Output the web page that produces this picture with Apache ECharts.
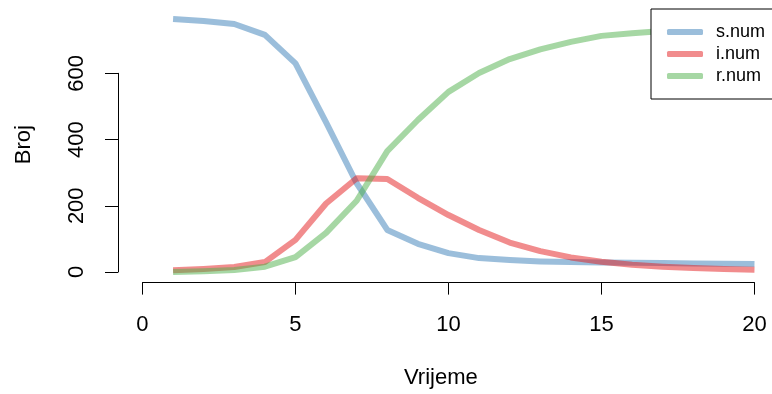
<!DOCTYPE html>
<html>
<head>
<meta charset="utf-8">
<script src="https://cdn.jsdelivr.net/npm/echarts@6/dist/echarts.min.js"></script>
<style>
html,body{margin:0;padding:0;background:#fff;}
#chart{width:772px;height:394px;}
</style>
</head>
<body>
<div id="chart"></div>
<script>
// ---- data ----
var vrijeme = [1,2,3,4,5,6,7,8,9,10,11,12,13,14,15,16,17,18,19,20];
var sNum = [764,758,749,716,630,452,268,127,85,57,42,36,32,30,29,28,27,26,25,24];
var iNum = [5,9,15,30,97,207,283,281,224,172,127,89,63,44,31,22,16,12,9,7];
var rNum = [0,2,6,16,45,118,215,365,459,544,601,643,672,695,713,721,728,733,737,740];
var seriesNames = ['s.num','i.num','r.num'];
var xTicks = [0,5,10,15,20];
var yTicks = [0,200,400,600];

function pairs(ys){ return vrijeme.map(function(x,k){ return [x, ys[k]]; }); }

var colors = ['rgba(55,126,184,0.5)','rgba(228,26,28,0.5)','rgba(77,175,74,0.5)'];
var font = 'Liberation Sans, Arial, sans-serif';

var chart = echarts.init(document.getElementById('chart'), null, {renderer:'canvas'});
var pxY = 198.7/600;
var pxX = 30.6;
var x0 = 118 + 0.8*pxX;   // pixel of x = 0
var yOff = 32;            // value-units below 0 where the x axis line sits
var hidden = {axisLine:{show:false}, axisTick:{show:false}, axisLabel:{show:false}, splitLine:{show:false}};
function hid(o){ var r = JSON.parse(JSON.stringify(hidden)); for (var k in o) r[k]=o[k]; return r; }

var option = {
  animation:false,
  backgroundColor:'#fff',
  grid:[
    {left:118, top:10.4, width:21.1*pxX, height:822*pxY},             // titles
    {left:x0, top:73.3, width:20*pxX, height:(600+yOff)*pxY},          // data + x-axis display
    {left:118, top:73.3, width:20*pxX, height:600*pxY}                  // y-axis display
  ],
  xAxis:[
    hid({gridIndex:0, type:'value', min:-0.8, max:20.3,
     name:'Vrijeme', nameLocation:'middle', nameGap:88,
     nameTextStyle:{fontFamily:font, fontSize:22, color:'#000'}}),
    {gridIndex:1, type:'value', min:0, max:20, interval:5, position:'bottom',
     axisLine:{show:true, onZero:false, lineStyle:{color:'#000', width:1}},
     axisTick:{show:true, inside:false, length:12, lineStyle:{color:'#000', width:1}},
     axisLabel:{show:true, margin:31, fontFamily:font, fontSize:22, color:'#000',
       formatter:function(v){ return xTicks.indexOf(v)>=0 ? String(v) : ''; }},
     splitLine:{show:false}},
    hid({gridIndex:2, type:'value', min:0, max:20})
  ],
  yAxis:[
    hid({gridIndex:0, type:'value', min:-32, max:790,
     name:'Broj', nameLocation:'middle', nameGap:83,
     nameTextStyle:{fontFamily:font, fontSize:22, color:'#000'}}),
    hid({gridIndex:1, type:'value', min:-yOff, max:600}),
    {gridIndex:2, type:'value', min:0, max:600, interval:200, position:'left',
     axisLine:{show:true, onZero:false, lineStyle:{color:'#000', width:1}},
     axisTick:{show:true, inside:false, length:13, lineStyle:{color:'#000', width:1}},
     axisLabel:{show:true, rotate:90, margin:30, fontFamily:font, fontSize:22, color:'#000',
       formatter:function(v){ return yTicks.indexOf(v)>=0 ? String(v) : ''; }},
     splitLine:{show:false}}
  ],
  legend:{
    orient:'vertical', left:651, top:9,
    data:seriesNames,
    icon:'roundRect', itemWidth:36, itemHeight:6, itemGap:4,
    borderColor:'#000', borderWidth:1, borderRadius:0,
    padding:[14,24,14,16],
    backgroundColor:'#fff',
    textStyle:{fontFamily:font, fontSize:18, color:'#000', lineHeight:18, padding:[0,0,0,8]}
  },
  series:[sNum,iNum,rNum].map(function(d,k){
    return {
      name:seriesNames[k], type:'line', xAxisIndex:1, yAxisIndex:1,
      data:pairs(d), symbol:'none', smooth:false, clip:false,
      lineStyle:{color:colors[k], width:6, cap:'butt', join:'round'},
      itemStyle:{color:colors[k]},
      z:2
    };
  })
};
chart.setOption(option);
</script>
</body>
</html>
